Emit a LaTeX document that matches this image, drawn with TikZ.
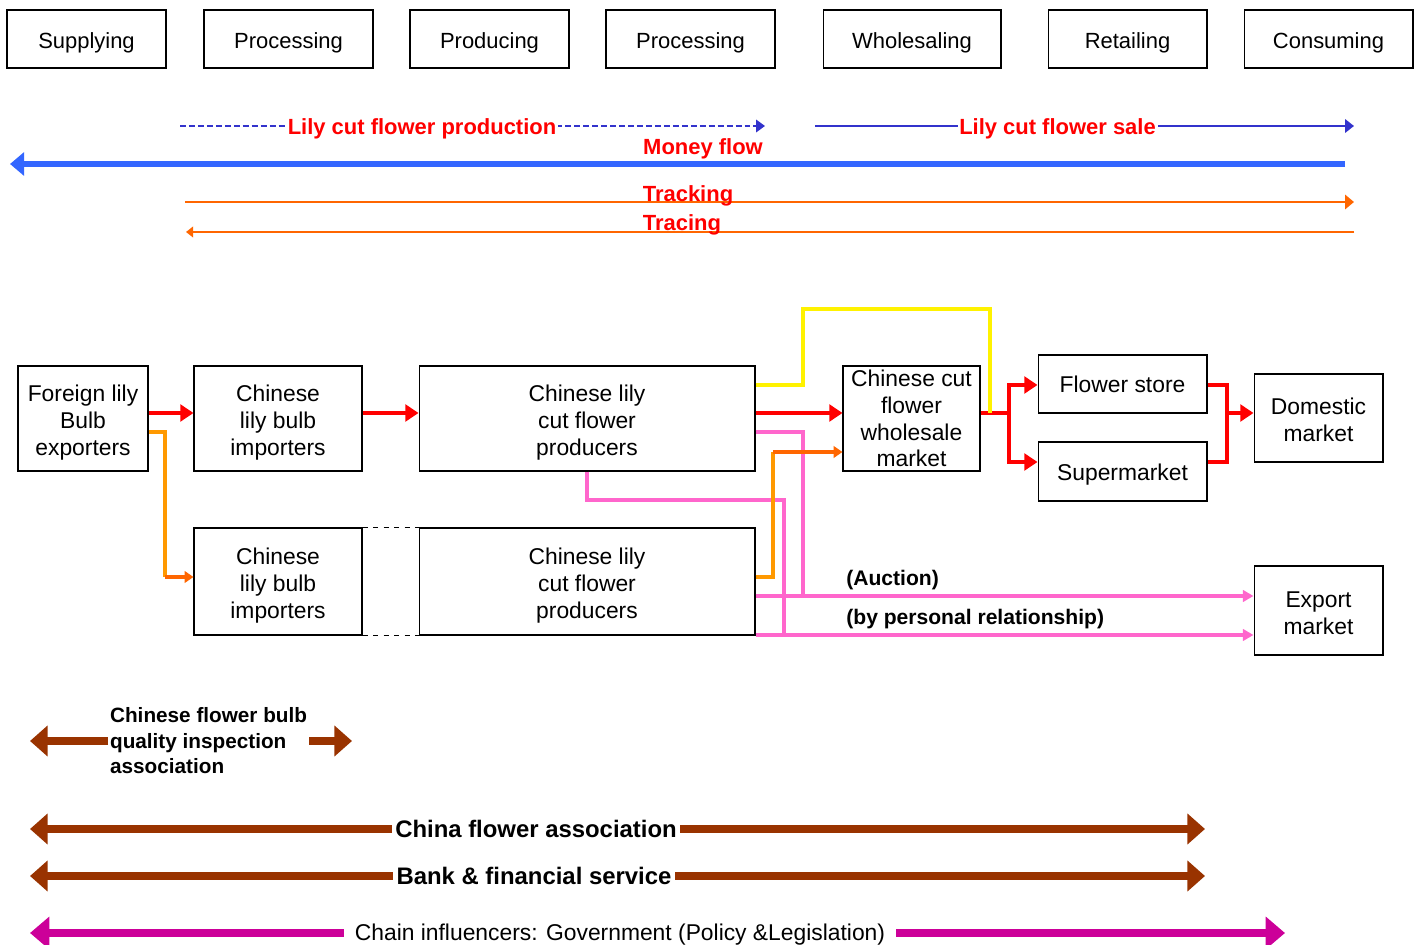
\documentclass[tikz,border=0pt]{standalone}
\usepackage{fontspec}
\setmainfont{Liberation Sans}
\usetikzlibrary{arrows.meta}
\definecolor{flowblue}{HTML}{3333CC}
\definecolor{moneyblue}{HTML}{3366FF}
\definecolor{trackorange}{HTML}{FF6600}
\definecolor{bendorange}{HTML}{FF9900}
\definecolor{exportpink}{HTML}{FF66CC}
\definecolor{assocbrown}{HTML}{993300}
\definecolor{govmagenta}{HTML}{CC0099}
\tikzset{
  stagebox/.style={draw, line width=0.6pt, minimum height=1.16cm, inner sep=0pt, text height=11pt, text depth=0pt, font=\fontsize{12.5pt}{15pt}\selectfont},
  actorbox/.style={draw, line width=0.6pt, inner sep=0pt, align=center, font=\fontsize{13pt}{15.3pt}\selectfont},
  threeline/.style={text height=42pt, text depth=0pt},
  twoline/.style={text height=27pt, text depth=0pt},
  flowlabel/.style={text=red, inner sep=1pt, font=\bfseries\fontsize{12.5pt}{15pt}\selectfont},
  routelabel/.style={inner sep=0pt, font=\bfseries\fontsize{12pt}{15pt}\selectfont},
  assoclabel/.style={fill=white, inner sep=2pt, font=\bfseries\fontsize{13.6pt}{16pt}\selectfont},
  redflow/.style={red, line width=2.3pt, -{Triangle[length=7.5pt,width=9.5pt]}},
  redline/.style={red, line width=2.3pt},
  bendline/.style={bendorange, line width=2pt},
  orangeflow/.style={trackorange, line width=2pt, -{Triangle[length=5pt,width=6.5pt]}},
  pinkline/.style={exportpink, line width=2pt},
  pinkflow/.style={exportpink, line width=2pt, -{Triangle[length=6pt,width=6.5pt]}},
  yellowline/.style={yellow, line width=2pt},
  assocarrow/.style={assocbrown, line width=4.5pt, {Triangle[length=10pt,width=17pt]}-{Triangle[length=10pt,width=17pt]}},
  assochead/.style={assocbrown, line width=4.5pt, -{Triangle[length=10pt,width=17pt]}}
}
\begin{document}
\begin{tikzpicture}[x=0.02cm,y=-0.02cm]
\useasboundingbox (0,0) rectangle (1420,945);
%\draw[step=50,gray,very thin] (0,0) grid (1420,945);
% stages
\node[stagebox, minimum width=3.18cm] (supply) at (86.5,39) {Supplying};
\node[stagebox, minimum width=3.38cm] (procA) at (288.5,39) {Processing};
\node[stagebox, minimum width=3.18cm] (produce) at (489.5,39) {Producing};
\node[stagebox, minimum width=3.38cm] (procB) at (690.5,39) {Processing};
\node[stagebox, minimum width=3.56cm] (wholesale) at (912,39) {Wholesaling};
\node[stagebox, minimum width=3.18cm] (retail) at (1127.5,39) {Retailing};
\node[stagebox, minimum width=3.38cm] (consume) at (1328.5,39) {Consuming};
% flows
\coordinate (prodstart) at (180,126);
\coordinate (prodend) at (765,126);
\coordinate (salestart) at (815,126);
\coordinate (saleend) at (1354,126);
\coordinate (moneystart) at (1345,164);
\coordinate (moneyend) at (10,164);
\coordinate (trackstart) at (185,202);
\coordinate (trackend) at (1354,202);
\coordinate (tracestart) at (1354,232);
\coordinate (traceend) at (186,232);
\draw[flowblue, line width=1.1pt, dash pattern=on 3.4pt off 1.7pt, -{Triangle[length=5pt,width=7pt]}] (prodstart) -- (prodend);
\draw[flowblue, line width=1.7pt, -{Triangle[length=5pt,width=7.5pt]}] (salestart) -- (saleend);
\draw[moneyblue, line width=3.6pt, -{Triangle[length=8pt,width=13pt]}] (moneystart) -- (moneyend);
\draw[trackorange, line width=1.7pt, -{Triangle[length=5pt,width=8pt]}] (trackstart) -- (trackend);
\draw[trackorange, line width=1.1pt, -{Triangle[length=4pt,width=6pt]}] (tracestart) -- (traceend);
\node[flowlabel, fill=white, anchor=base] (prodlbl) at (422,135) {Lily cut flower production};
\node[flowlabel, fill=white, anchor=base] (salelbl) at (1057.5,135) {Lily cut flower sale};
\node[flowlabel, anchor=base] (moneylbl) at (703,155) {Money flow};
\node[flowlabel, anchor=base] (tracklbl) at (688,202) {Tracking};
\node[flowlabel, anchor=base] (tracelbl) at (682,231) {Tracing};
% chain actors
\node[actorbox, threeline, minimum width=2.6cm, minimum height=2.1cm] (exporter) at (83,418.5) {Foreign lily\\Bulb\\exporters};
\node[actorbox, threeline, minimum width=3.36cm, minimum height=2.1cm] (impA) at (278,418.5) {Chinese\\lily bulb\\importers};
\node[actorbox, threeline, minimum width=6.72cm, minimum height=2.1cm] (prodA) at (587,418.5) {Chinese lily\\cut flower\\producers};
\node[actorbox, minimum width=2.74cm, minimum height=2.1cm] (whsl) at (911.5,418.5) {Chinese cut\\flower\\wholesale\\market};
\node[actorbox, minimum width=3.38cm, minimum height=1.16cm] (store) at (1122.5,384) {Flower store};
\node[actorbox, text height=12.5pt, minimum width=3.38cm, minimum height=1.18cm] (supmkt) at (1122.5,471.5) {Supermarket};
\node[actorbox, twoline, minimum width=2.58cm, minimum height=1.76cm] (domestic) at (1318.5,418) {Domestic\\market};
\node[actorbox, twoline, minimum width=2.58cm, minimum height=1.78cm] (export) at (1318.5,610.5) {Export\\market};
\node[actorbox, threeline, minimum width=3.36cm, minimum height=2.14cm] (impB) at (278,581.5) {Chinese\\lily bulb\\importers};
\node[actorbox, threeline, minimum width=6.72cm, minimum height=2.14cm] (prodB) at (587,581.5) {Chinese lily\\cut flower\\producers};
\draw[dashed, line width=0.6pt] (impB.north east) -- (prodB.north west);
\draw[dashed, line width=0.6pt] (impB.south east) -- (prodB.south west);
% rows
\coordinate (rA) at (0,385);
\coordinate (rB) at (0,413);
\coordinate (rC) at (0,432);
\coordinate (rD) at (0,452);
\coordinate (rE) at (0,462);
\coordinate (rF) at (0,577);
\coordinate (rG) at (0,596);
\coordinate (rH) at (0,635);
\coordinate (rsplit) at (1009,413);
\coordinate (rjoin) at (1227,413);
\coordinate (yjoin) at (990,413);
% connectors
\draw[redflow] (exporter.east |- rB) -- (impA.west |- rB);
\draw[redflow] (impA.east |- rB) -- (prodA.west |- rB);
\draw[redflow] (prodA.east |- rB) -- (whsl.west |- rB);
\draw[bendline] (exporter.east |- rC) -| (165,577);
\draw[orangeflow] (165,577) -- (impB.west |- rF);
\draw[pinkline] (prodA.east |- rC) -| (803,596);
\draw[pinkline] (prodA.south) |- (784,500) -- (784,635);
\draw[pinkflow] (prodB.east |- rG) -- (export.west |- rG);
\draw[pinkflow] (prodB.east |- rH) -- (export.west |- rH);
\draw[bendline] (prodB.east |- rF) -| (773,452);
\draw[orangeflow] (773,452) -- (whsl.west |- rD);
\draw[redline] (whsl.east |- rB) -- (rsplit);
\draw[redflow] (rsplit) |- (store.west |- rA);
\draw[redflow] (rsplit) |- (supmkt.west |- rE);
\draw[redline] (store.east |- rA) -| (rjoin) |- (supmkt.east |- rE);
\draw[redflow] (rjoin) -- (domestic.west |- rB);
\draw[yellowline] (prodA.east |- rA) -| (803,309) -| (yjoin);
\node[routelabel, anchor=base west] (auction) at (846,585) {(Auction)};
\node[routelabel, anchor=base west] (personal) at (846,624) {(by personal relationship)};
% influencers
\coordinate (qial) at (30,741);
\coordinate (qiar) at (352,741);
\node[inner sep=1pt, anchor=west, align=left, font=\bfseries\fontsize{11.8pt}{14.5pt}\selectfont] (qia) at (108,741) {Chinese flower bulb\\quality inspection\\association};
\draw[assochead] (qia.west) -- (qial);
\draw[assochead] (qia.east) -- (qiar);
\coordinate (cfal) at (30,829);
\coordinate (cfar) at (1205,829);
\coordinate (bankl) at (30,876);
\coordinate (bankr) at (1205,876);
\coordinate (govl) at (30,933);
\coordinate (govr) at (1285,933);
\draw[assocarrow] (cfal) -- (cfar);
\draw[assocarrow] (bankl) -- (bankr);
\draw[govmagenta, line width=4pt, {Triangle[length=11pt,width=18pt]}-{Triangle[length=11pt,width=18pt]}] (govl) -- (govr);
\node[assoclabel] (cfa) at (536,829) {China flower association};
\node[assoclabel] (bank) at (534,876) {Bank \& financial service};
\node[fill=white, inner sep=6pt, font=\fontsize{13pt}{15pt}\selectfont] (gov) at (620,935) {Chain influencers: Government (Policy \&Legislation)};
\end{tikzpicture}
\end{document}
